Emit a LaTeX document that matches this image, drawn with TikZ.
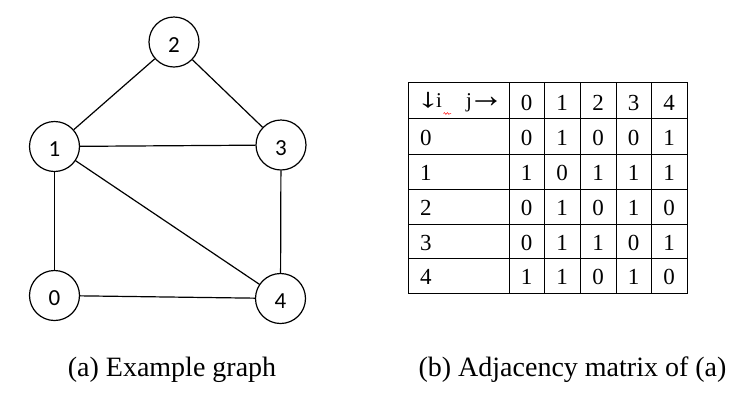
\documentclass[tikz,border=0pt]{standalone}
\usepackage{fontspec}
\usepackage{graphicx}
\usetikzlibrary{decorations.pathmorphing}
\newfontfamily\tabfont{Liberation Serif}
\newfontfamily\vfont{Carlito}
\begin{document}
\begin{tikzpicture}[x=1pt,y=-1pt,
  vertex/.style={draw,line width=1.2pt,circle,minimum size=50pt,inner sep=0pt,
    text height=20pt,text depth=0pt,font=\vfont\fontsize{23}{26}\selectfont},
  edge/.style={line width=1.2pt},
  grid/.style={line width=1pt},
  cell/.style={anchor=base,inner sep=0pt,font=\tabfont\fontsize{23}{26}\selectfont},
  rowlab/.style={anchor=base west,inner sep=0pt,font=\tabfont\fontsize{23}{26}\selectfont},
  arr/.style={anchor=base,inner sep=0pt},
  capt/.style={anchor=base,inner sep=0pt,font=\tabfont\fontsize{28}{32}\selectfont}]
\useasboundingbox (0,0) rectangle (737,408);
% graph
\node[vertex] (v2) at (174,42) {2};
\node[vertex] (v1) at (54.5,146.5) {1};
\node[vertex] (v3) at (281,145) {3};
\node[vertex] (v0) at (54.5,295.5) {0};
\node[vertex] (v4) at (280.5,298.5) {4};
\draw[edge] (v1) -- (v2);
\draw[edge] (v2) -- (v3);
\draw[edge] (v1) -- (v3);
\draw[edge] (v1) -- (v0);
\draw[edge] (v1) -- (v4);
\draw[edge] (v3) -- (v4);
\draw[edge] (v0) -- (v4);
% table grid
\draw[grid] (408,82) rectangle (687,293);
\foreach \x in {509,544,580,616,651} \draw[grid] (\x,82) -- (\x,293);
\foreach \y in {118,154,189,224,258} \draw[grid] (408,\y) -- (687,\y);
% header
\node[arr] (hdown) at (428,107.5) {\makebox[12pt]{\scalebox{1.5}[0.9]{\tabfont\fontsize{30}{30}\selectfont ↓}}};
\node[rowlab,font=\tabfont\fontsize{21}{24}\selectfont] (hi) at (436,107.5) {i};
\node[rowlab,font=\tabfont\fontsize{21}{24}\selectfont] (hj) at (466,107.5) {j};
\node[arr] (hright) at (486,107.5) {\makebox[19pt]{\tabfont\fontsize{36}{36}\selectfont →}};
\draw[red,line width=0.5pt,decorate,decoration={snake,amplitude=0.9pt,segment length=3pt}] (443.5,113.5) -- (451,113.5);
\foreach \c [count=\k from 0] in {526.5,562,598,633.5,669}
  \node[cell] (h\k) at (\c,110) {\k};
% rows
\foreach \r/\yb/\vals in {0/145/{0,1,0,0,1},1/180/{1,0,1,1,1},2/215/{0,1,0,1,0},3/250/{0,1,1,0,1},4/284/{1,1,0,1,0}}{
  \node[rowlab] (r\r) at (420,\yb) {\r};
  \foreach \v [count=\k from 0] in \vals {
    \pgfmathsetmacro{\cx}{{526.5,562,598,633.5,669}[\k]}
    \node[cell] (c\r\k) at (\cx,\yb) {\v};
  }
}
% captions
\node[capt] (capa) at (172,376) {(a) Example graph};
\node[capt] (capb) at (572.5,376) {(b) Adjacency matrix of (a)};
\end{tikzpicture}
\end{document}
